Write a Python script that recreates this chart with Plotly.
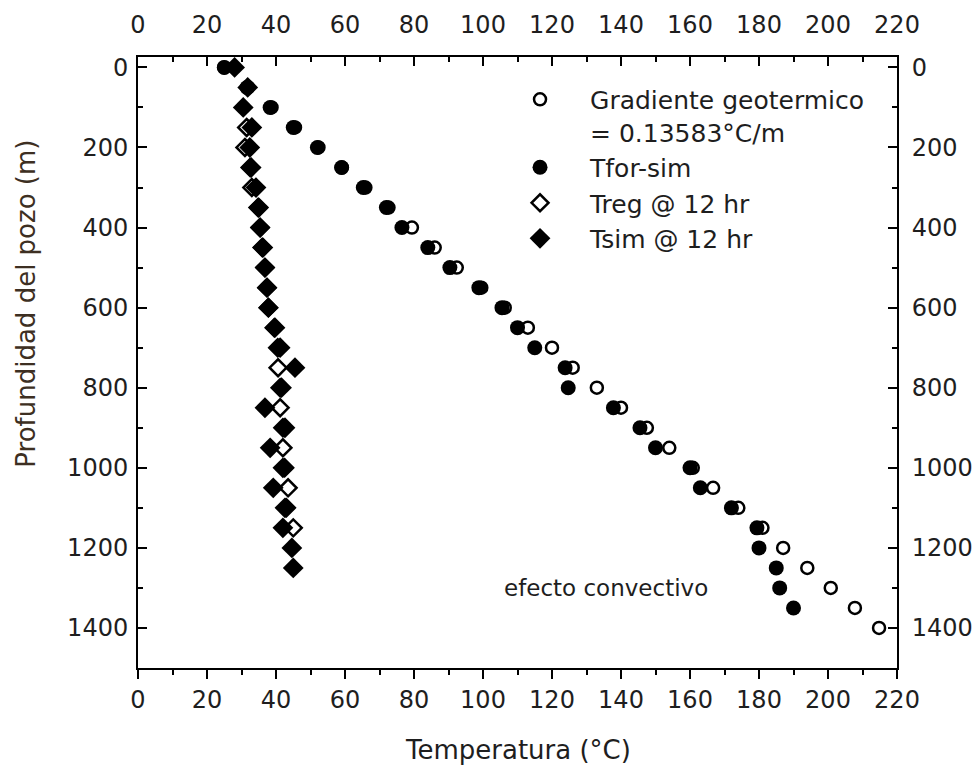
import plotly.graph_objects as go

# ---- data ----
depth_grad = [0, 50, 100, 150, 200, 250, 300, 350, 400, 450, 500, 550, 600, 650, 700,
              750, 800, 850, 900, 950, 1000, 1050, 1100, 1150, 1200, 1250, 1300, 1350, 1400]
temp_grad = [25, 31.9, 38.7, 45.5, 52.3, 59.1, 65.9, 72.6, 79.4, 86, 92.4, 99.5, 106.3, 113, 120,
             126, 133, 140, 147.5, 154, 160.8, 166.7, 174, 181, 187, 194, 200.8, 207.8, 214.8]

depth_for = [0, 50, 100, 150, 200, 250, 300, 350, 400, 450, 500, 550, 600, 650, 700,
             750, 800, 850, 900, 950, 1000, 1050, 1100, 1150, 1200, 1250, 1300, 1350]
temp_for = [25, 31.6, 38.3, 45, 52, 59, 65.3, 72, 76.5, 84, 90.4, 98.8, 105.5, 110, 115,
            123.8, 124.7, 137.8, 145.5, 150, 160, 163, 172, 179.4, 180, 185, 186, 190]

depth_reg = [150, 200, 250, 300, 350, 400, 450, 500, 550, 600, 650, 700, 750, 800, 850,
             900, 950, 1000, 1050, 1100, 1150]
temp_reg = [31.5, 31, 32.5, 33, 34.8, 35.4, 36, 36.8, 37.4, 37.8, 39.5, 40.5, 40.6, 41.2, 41.2,
            42, 42, 42.5, 43.5, 43, 45]

depth_sim = [0, 50, 100, 150, 200, 250, 300, 350, 400, 450, 500, 550, 600, 650, 700,
             750, 800, 850, 900, 950, 1000, 1050, 1100, 1150, 1200, 1250]
temp_sim = [28, 31.8, 30.5, 33, 32.4, 32.8, 34.2, 35, 35.4, 36.2, 36.8, 37.4, 37.8, 39.7, 41.2,
            45.5, 41.6, 36.8, 42.6, 38.3, 42, 39.2, 42.6, 42, 44.6, 45]

x_ticks = list(range(0, 221, 20))
y_ticks = list(range(0, 1401, 200))

FONT = "DejaVu Sans, Verdana, sans-serif"
TXT = "#1e1e1e"

fig = go.Figure()
fig.add_trace(go.Scatter(
    x=temp_grad, y=depth_grad, mode="markers",
    name="Gradiente geotermico<br>= 0.13583°C/m",
    marker=dict(symbol="circle", size=12, color="white", line=dict(color="black", width=2.5))))
fig.add_trace(go.Scatter(
    x=temp_for, y=depth_for, mode="markers", name="Tfor-sim",
    marker=dict(symbol="circle", size=15, color="black", line=dict(width=0))))
fig.add_trace(go.Scatter(
    x=temp_reg, y=depth_reg, mode="markers", name="Treg @ 12 hr",
    marker=dict(symbol="diamond", size=13, color="white", line=dict(color="black", width=2.5))))
fig.add_trace(go.Scatter(
    x=temp_sim, y=depth_sim, mode="markers", name="Tsim @ 12 hr",
    marker=dict(symbol="diamond", size=16, color="black", line=dict(width=0))))
# empty trace so that the mirrored top / right axes are drawn
fig.add_trace(go.Scatter(x=[], y=[], xaxis="x2", yaxis="y2", mode="markers",
                         showlegend=False, hoverinfo="skip"))

common_x = dict(range=[0, 220], tickvals=x_ticks, showgrid=False, zeroline=False,
                showline=True, linecolor="black", linewidth=2, automargin=False,
                tickcolor="black", tickwidth=2, ticklen=9,
                tickfont=dict(family=FONT, size=24, color=TXT))
common_y = dict(range=[1500, -26], tickvals=y_ticks, showgrid=False, zeroline=False,
                showline=True, linecolor="black", linewidth=2, automargin=False,
                tickcolor="black", tickwidth=2, ticklen=9, ticks="inside",
                tickfont=dict(family=FONT, size=24, color=TXT))

fig.update_layout(
    width=980, height=769,
    margin=dict(l=138, r=83, t=57, b=101),
    paper_bgcolor="white", plot_bgcolor="white",
    font=dict(family=FONT, size=24, color=TXT),
    xaxis=dict(**common_x, side="bottom", ticks="outside",
               minor=dict(dtick=10, ticks="outside", ticklen=5, tickwidth=2, tickcolor="black")),
    xaxis2=dict(**common_x, side="top", overlaying="x", anchor="y", ticks="inside",
                ticklabelstandoff=12,
                minor=dict(dtick=10, ticks="inside", ticklen=5, tickwidth=2, tickcolor="black")),
    yaxis=dict(**common_y, side="left", ticklabelstandoff=3,
               minor=dict(dtick=100, ticks="inside", ticklen=5, tickwidth=2, tickcolor="black")),
    yaxis2=dict(**common_y, side="right", overlaying="y", anchor="x", ticklabelstandoff=8,
                minor=dict(dtick=100, ticks="inside", ticklen=5, tickwidth=2, tickcolor="black")),
    legend=dict(x=0.4638, y=0.968, xanchor="left", yanchor="top",
                bgcolor="rgba(0,0,0,0)", borderwidth=0, itemwidth=90,
                valign="top", font=dict(family=FONT, size=25, color=TXT)),
    showlegend=True,
)

fig.add_annotation(text="Profundidad del pozo (m)", textangle=-90,
                   xref="paper", yref="paper", x=-0.147, y=0.597,
                   xanchor="center", yanchor="middle", showarrow=False,
                   font=dict(family=FONT, size=26, color="#3d2f22"))
fig.add_annotation(text="Temperatura (°C)",
                   xref="paper", yref="paper", x=0.5, y=-0.134,
                   xanchor="center", yanchor="middle", showarrow=False,
                   font=dict(family=FONT, size=26, color=TXT))
fig.add_annotation(text="efecto convectivo", xref="x", yref="y", x=135.6, y=1301,
                   xanchor="center", yanchor="middle", showarrow=False,
                   font=dict(family=FONT, size=23, color=TXT))

fig.write_html("out.html")
